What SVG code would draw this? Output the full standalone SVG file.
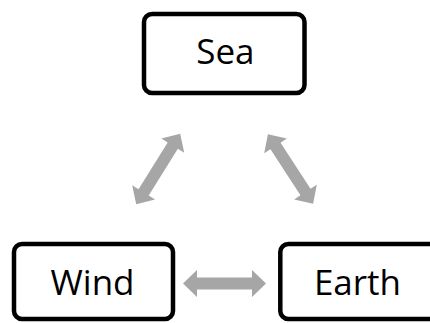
<svg xmlns="http://www.w3.org/2000/svg" xmlns:xlink="http://www.w3.org/1999/xlink" width="430" height="323" viewBox="0 0 430 323">
<style>
.box{fill:#fff;stroke:#000;stroke-width:4.5}
.lbl{font-family:"Open Sans","Liberation Sans",sans-serif;font-size:35px;fill:#000;text-anchor:middle}
.arr{fill:#a6a6a6}
</style>
<defs>
<path id="dbl" d="M-41.5,0 L-27.5,-13.5 L-27.5,-6 L27.5,-6 L27.5,-13.5 L41.5,0 L27.5,13.5 L27.5,6 L-27.5,6 L-27.5,13.5 Z"/>
</defs>
<rect width="430" height="323" fill="#fff"/>
<g id="connectors">
<use xlink:href="#dbl" class="arr" transform="translate(158.2,169) rotate(-58)"/>
<use xlink:href="#dbl" class="arr" transform="translate(290.5,169) rotate(57)"/>
<use xlink:href="#dbl" class="arr" transform="translate(224.5,283.5)"/>
</g>
<g id="sea">
<rect class="box" x="144" y="14" width="160.5" height="79" rx="8"/>
<text class="lbl" x="225.4" y="64">Sea</text>
</g>
<g id="wind">
<rect class="box" x="14" y="244" width="159" height="75" rx="8"/>
<text class="lbl" x="92.5" y="295">Wind</text>
</g>
<g id="earth">
<rect class="box" x="280.3" y="244" width="160" height="75" rx="8"/>
<text class="lbl" x="357.5" y="295">Earth</text>
</g>
</svg>
